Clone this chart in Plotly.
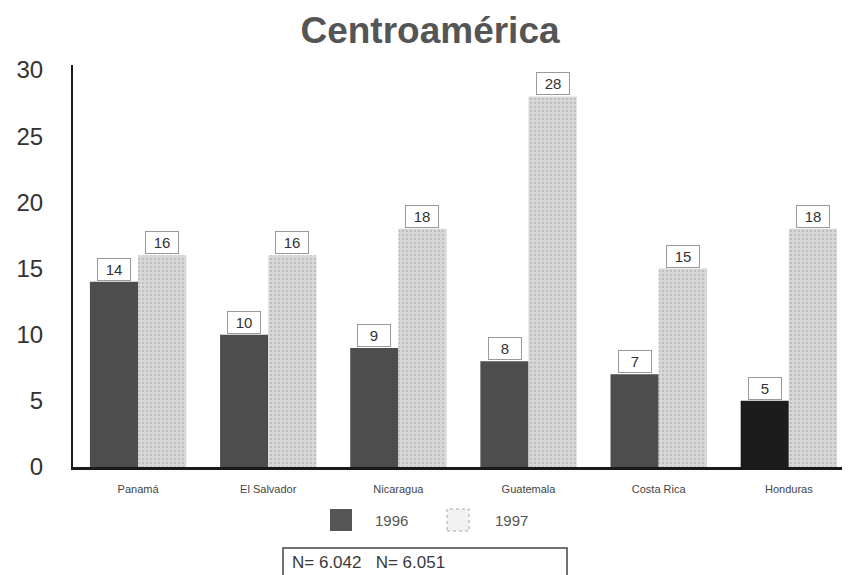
import plotly.graph_objects as go

categories = ["Panamá", "El Salvador", "Nicaragua", "Guatemala", "Costa Rica", "Honduras"]
values_1996 = [14, 10, 9, 8, 7, 5]
values_1997 = [16, 16, 18, 28, 15, 18]
colors_1996 = ["#4d4d4d", "#4d4d4d", "#4d4d4d", "#4d4d4d", "#4d4d4d", "#1c1c1c"]
y_ticks = [0, 5, 10, 15, 20, 25, 30]
series_names = ["1996", "1997"]
n_text = "N= 6.042&nbsp;&nbsp;&nbsp;N= 6.051"

FONT = "Liberation Sans, Arial, sans-serif"
W, H = 842, 567  # page body has an 8px margin
ML, MT, MB = 65, 57, 108
PW, PH = W - ML, H - MT - MB


def px_x(p):  # page pixel -> paper x
    return (p - 8 - ML) / PW


def px_y(p):  # page pixel -> paper y
    return (H - MB - (p - 8)) / PH


fig = go.Figure()
fig.add_trace(go.Bar(
    name=series_names[0], x=categories, y=values_1996,
    marker=dict(color=colors_1996, line=dict(width=0)),
))
fig.add_trace(go.Bar(
    name=series_names[1], x=categories, y=values_1997,
    marker=dict(color="#d8d8d8", line=dict(width=0),
                pattern=dict(shape=".", fgcolor="#a0a0a0", size=4, solidity=0.25)),
))

for series, shift in ((values_1996, -24), (values_1997, 24)):
    for c, v in zip(categories, series):
        fig.add_annotation(
            x=c, y=v, xref="x", yref="y", xshift=shift, yshift=1,
            text=str(v), showarrow=False, yanchor="bottom",
            font=dict(family=FONT, size=15, color="#333333"),
            bgcolor="white", bordercolor="#9a9a9a", borderwidth=1,
            width=30, height=19, borderpad=1,
        )

# custom legend
fig.add_shape(type="rect", xref="paper", yref="paper",
              x0=px_x(330), x1=px_x(352), y0=px_y(531), y1=px_y(509),
              fillcolor="#555555", line=dict(width=0))
fig.add_shape(type="rect", xref="paper", yref="paper",
              x0=px_x(447), x1=px_x(469), y0=px_y(531), y1=px_y(509),
              fillcolor="#f2f2f2", line=dict(width=1, color="#aaaaaa", dash="dot"))
for txt, xp in zip(series_names, (373, 493)):
    fig.add_annotation(x=px_x(xp), y=px_y(520), xref="paper", yref="paper",
                       text=txt, showarrow=False, xanchor="left", yanchor="middle",
                       font=dict(family=FONT, size=15, color="#555555"))

# N box
fig.add_shape(type="rect", xref="paper", yref="paper",
              x0=px_x(283), x1=px_x(567), y0=px_y(590), y1=px_y(548),
              fillcolor="white", line=dict(width=1.5, color="#444444"))
fig.add_annotation(x=px_x(290), y=px_y(562), xref="paper", yref="paper",
                   text=n_text, showarrow=False, xanchor="left", yanchor="middle",
                   font=dict(family=FONT, size=17, color="#3a3a3a"))

fig.update_layout(
    width=W, height=H,
    margin=dict(l=ML, r=0, t=MT, b=MB, autoexpand=False),
    paper_bgcolor="white", plot_bgcolor="white",
    barmode="group", bargap=0.26, bargroupgap=0,
    title=dict(text="<b>Centroamérica</b>", x=(430 - 8) / W, xanchor="center",
               y=1 - (30 - 8) / H, yanchor="middle",
               font=dict(family=FONT, size=37, color="#555555")),
    font=dict(family=FONT, color="#333333"),
    showlegend=False,
    xaxis=dict(range=[-0.5, 5.47], showgrid=False, showline=True, linecolor="#1a1a1a", linewidth=3,
               ticks="", ticklabelstandoff=10,
               tickfont=dict(family=FONT, size=11, color="#444444"), zeroline=False),
    yaxis=dict(range=[0, 30.38], tickvals=y_ticks, showgrid=False, showline=True,
               linecolor="#1a1a1a", linewidth=2, ticks="", ticklabelstandoff=23,
               tickfont=dict(family=FONT, size=24, color="#333333"), zeroline=False),
)

fig.write_html("out.html")
